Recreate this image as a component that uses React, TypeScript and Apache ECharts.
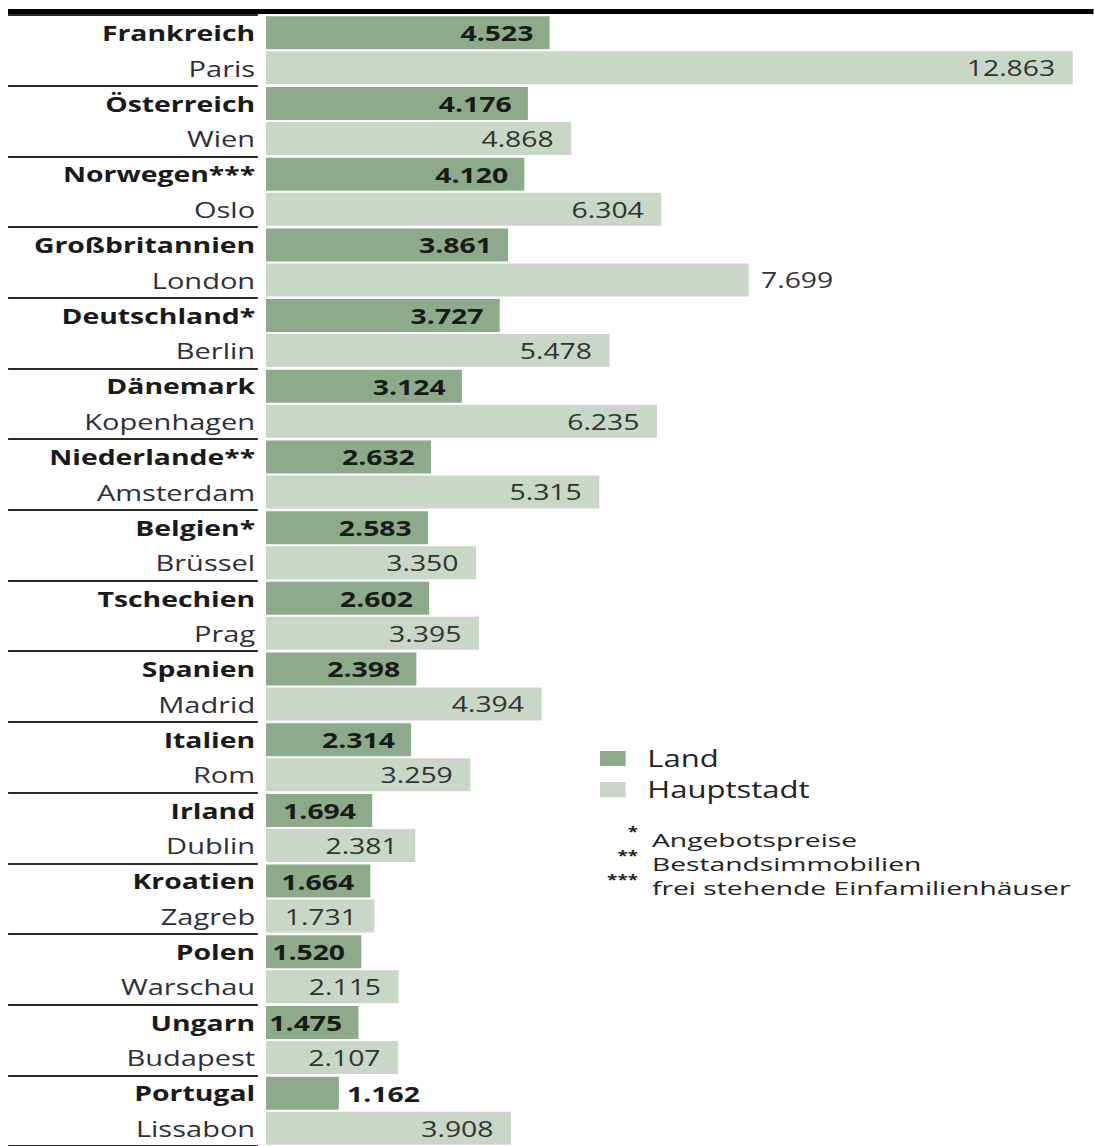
import React, { useEffect, useRef } from "react";
import * as echarts from "echarts";

const countries = [
  "Frankreich", "Österreich", "Norwegen***", "Großbritannien", "Deutschland*", "Dänemark",
  "Niederlande**", "Belgien*", "Tschechien", "Spanien", "Italien", "Irland", "Kroatien",
  "Polen", "Ungarn", "Portugal",
];
const capitals = [
  "Paris", "Wien", "Oslo", "London", "Berlin", "Kopenhagen", "Amsterdam", "Brüssel",
  "Prag", "Madrid", "Rom", "Dublin", "Zagreb", "Warschau", "Budapest", "Lissabon",
];
const landValues = [4523, 4176, 4120, 3861, 3727, 3124, 2632, 2583, 2602, 2398, 2314, 1694, 1664, 1520, 1475, 1162];
const capitalValues = [12863, 4868, 6304, 7699, 5478, 6235, 5315, 3350, 3395, 4394, 3259, 2381, 1731, 2115, 2107, 3908];
const landLabelOutside = ["Portugal"];
const capitalLabelOutside = ["London"];
const legendNames = ["Land", "Hauptstadt"];
const footnoteMarks = ["*", "**", "***"];
const footnoteTexts = ["Angebotspreise", "Bestandsimmobilien", "frei stehende Einfamilienhäuser"];

const S = 1.35;
const W = 1094 / S;
const H = 1146;
const FONT = "'Open Sans', 'DejaVu Sans', sans-serif";

const fmt = (v: number) => Math.floor(v / 1000) + "." + String(v % 1000).padStart(3, "0");

export default function App() {
  const ref = useRef<HTMLDivElement>(null);
  useEffect(() => {
    if (!ref.current) return;
    const chart = echarts.init(ref.current, undefined, { renderer: "svg" });
    const labelFmt = (p: any) => fmt(p.value);
    chart.setOption({
      animation: false,
      backgroundColor: "#ffffff",
      grid: [
        { left: 197, top: 15, width: 604, height: 1136 },
        { left: 6, top: 15, width: 185, height: 1136 },
      ],
      xAxis: [
        { type: "value", gridIndex: 0, min: 0, max: 13000, show: false },
        { type: "value", gridIndex: 1, min: 0, max: 1, show: false },
      ],
      yAxis: [
        {
          type: "category",
          gridIndex: 0,
          data: countries,
          inverse: true,
          axisLine: { show: false },
          axisTick: { show: false },
          splitLine: { show: false },
          axisLabel: {
            interval: 0,
            margin: 8,
            align: "right",
            formatter: (value: string, index: number) => `{c|${value}}\n{k|${capitals[index]}}`,
            rich: {
              c: { fontFamily: FONT, fontSize: 21, fontWeight: "bold", color: "#1a1a1a", lineHeight: 35.5, align: "right" },
              k: { fontFamily: FONT, fontSize: 21.5, color: "#2f2f3a", lineHeight: 35.5, align: "right" },
            },
          },
        },
        {
          type: "category",
          gridIndex: 1,
          data: countries,
          inverse: true,
          axisLine: { show: false },
          axisTick: { show: false },
          axisLabel: { show: false },
          splitLine: { show: true, lineStyle: { color: "#2a2a2a", width: 2 } },
        },
      ],
      legend: {
        data: legendNames,
        orient: "vertical",
        left: 600 / S,
        top: 747,
        padding: 0,
        itemWidth: 19,
        itemHeight: 15,
        itemGap: 8,
        icon: "rect",
        textStyle: { fontFamily: FONT, fontSize: 23, color: "#222", padding: [0, 0, 0, 11] },
      },
      series: [
        {
          name: legendNames[0],
          type: "bar",
          xAxisIndex: 0,
          yAxisIndex: 0,
          barWidth: 33,
          barGap: "6%",
          itemStyle: { color: "#8dab8b" },
          data: landValues.map((v, i) =>
            landLabelOutside.includes(countries[i]) ? { value: v, label: { position: "right", distance: 6 } } : v
          ),
          label: {
            show: true,
            position: "insideRight",
            distance: 12,
            formatter: labelFmt,
            fontFamily: FONT,
            fontSize: 21,
            fontWeight: "bold",
            color: "#1a1a1a",
          },
        },
        {
          name: legendNames[1],
          type: "bar",
          xAxisIndex: 0,
          yAxisIndex: 0,
          barWidth: 33,
          barGap: "6%",
          itemStyle: { color: "#c8d7c6" },
          data: capitalValues.map((v, i) =>
            capitalLabelOutside.includes(capitals[i]) ? { value: v, label: { position: "right", distance: 9 } } : v
          ),
          label: {
            show: true,
            position: "insideRight",
            distance: 13,
            formatter: labelFmt,
            fontFamily: FONT,
            fontSize: 21,
            color: "#333",
          },
        },
      ],
      graphic: [
        {
          type: "line",
          z: 100,
          shape: { x1: 8 / S, y1: 11.5, x2: W, y2: 11.5 },
          style: { stroke: "#000", lineWidth: 5 },
        },
        ...footnoteMarks.map((m, i) => ({
          type: "text",
          x: 638 / S,
          y: 832 + i * 24,
          style: { text: m, align: "right", verticalAlign: "middle", fontFamily: FONT, fontSize: 14, lineHeight: 12, fontWeight: "bold", fill: "#222" },
        })),
        ...footnoteTexts.map((t, i) => ({
          type: "text",
          x: 652 / S,
          y: 839 + i * 24,
          scaleX: 1.1,
          style: { text: t, align: "left", verticalAlign: "middle", fontFamily: FONT, fontSize: 19, lineHeight: 21, fill: "#222" },
        })),
      ],
    });
    return () => chart.dispose();
  }, []);
  return (
    <div
      ref={ref}
      style={{
        position: "fixed",
        left: 0,
        top: 0,
        width: W,
        height: H,
        transform: `scaleX(${S})`,
        transformOrigin: "0 0",
        background: "#fff",
      }}
    />
  );
}
